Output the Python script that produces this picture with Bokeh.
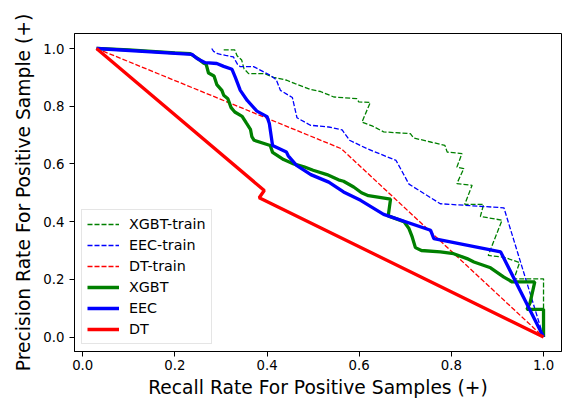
from bokeh.plotting import figure
from bokeh.models import Range1d, FixedTicker, Legend, LegendItem
from bokeh.embed import file_html
from bokeh.resources import INLINE

# ---- data ----
xgbt_train_recall = [0.306, 0.330, 0.335, 0.345, 0.350, 0.360, 0.395, 0.414, 0.443, 0.461, 0.494, 0.516,
                     0.545, 0.595, 0.599, 0.624, 0.606, 0.628, 0.653, 0.711, 0.718, 0.755, 0.786, 0.791,
                     0.823, 0.812, 0.827, 0.812, 0.845, 0.829, 0.870, 0.863, 0.910, 0.880, 0.914, 0.948,
                     0.936, 1.000, 1.000]
xgbt_train_prec = [0.995, 0.995, 0.975, 0.960, 0.930, 0.913, 0.913, 0.900, 0.890, 0.878, 0.858, 0.851,
                   0.832, 0.826, 0.815, 0.813, 0.745, 0.732, 0.711, 0.705, 0.690, 0.676, 0.664, 0.641,
                   0.636, 0.589, 0.584, 0.532, 0.526, 0.460, 0.460, 0.418, 0.405, 0.283, 0.277, 0.258,
                   0.202, 0.202, 0.000]

eec_train_recall = [0.280, 0.284, 0.293, 0.310, 0.327, 0.336, 0.342, 0.371, 0.407, 0.420, 0.429, 0.455,
                    0.465, 0.494, 0.534, 0.563, 0.579, 0.617, 0.680, 0.708, 0.776, 0.914, 1.000]
eec_train_prec = [1.000, 0.990, 0.982, 0.976, 0.971, 0.945, 0.937, 0.937, 0.907, 0.892, 0.855, 0.830,
                  0.760, 0.734, 0.728, 0.718, 0.682, 0.653, 0.612, 0.530, 0.462, 0.448, 0.000]

dt_train_recall = [0.030, 0.561, 1.000]
dt_train_prec = [1.000, 0.653, 0.000]

xgbt_recall = [0.030, 0.100, 0.200, 0.233, 0.250, 0.262, 0.268, 0.273, 0.285, 0.291, 0.302, 0.306,
               0.315, 0.322, 0.330, 0.346, 0.355, 0.364, 0.367, 0.372, 0.407, 0.412, 0.436, 0.458,
               0.480, 0.500, 0.530, 0.555, 0.566, 0.588, 0.605, 0.620, 0.668, 0.663, 0.697, 0.708,
               0.715, 0.722, 0.735, 0.776, 0.805, 0.834, 0.849, 0.885, 0.914, 0.932, 0.981, 0.971,
               0.964, 1.000, 1.000]
xgbt_prec = [1.000, 0.995, 0.985, 0.982, 0.965, 0.950, 0.945, 0.915, 0.905, 0.875, 0.855, 0.838,
             0.826, 0.795, 0.780, 0.765, 0.742, 0.720, 0.695, 0.682, 0.664, 0.640, 0.615, 0.600,
             0.590, 0.578, 0.563, 0.545, 0.540, 0.520, 0.500, 0.490, 0.478, 0.420, 0.400, 0.376,
             0.347, 0.310, 0.300, 0.295, 0.289, 0.272, 0.260, 0.240, 0.208, 0.191, 0.191, 0.120,
             0.096, 0.096, 0.000]

eec_recall = [0.030, 0.237, 0.248, 0.266, 0.291, 0.306, 0.324, 0.331, 0.342, 0.357, 0.378, 0.400,
              0.405, 0.412, 0.442, 0.446, 0.464, 0.495, 0.534, 0.566, 0.603, 0.653, 0.755, 0.762,
              0.907, 1.000]
eec_prec = [1.000, 0.980, 0.965, 0.951, 0.948, 0.938, 0.928, 0.901, 0.855, 0.820, 0.783, 0.764,
            0.740, 0.664, 0.641, 0.628, 0.595, 0.563, 0.537, 0.503, 0.474, 0.425, 0.370, 0.341,
            0.295, 0.000]

dt_recall = [0.030, 0.394, 0.383, 1.000]
dt_prec = [1.000, 0.508, 0.483, 0.000]

x_ticks = [0.0, 0.2, 0.4, 0.6, 0.8, 1.0]
y_ticks = [0.0, 0.2, 0.4, 0.6, 0.8, 1.0]
tick_labels = ["0.0", "0.2", "0.4", "0.6", "0.8", "1.0"]

FONT = "DejaVu Sans"

p = figure(width=562, height=401, output_backend="svg", toolbar_location=None,
           x_range=Range1d(-0.0178, 1.039), y_range=Range1d(-0.05, 1.052),
           min_border_left=74, min_border_right=1, min_border_top=33, min_border_bottom=50)

p.xgrid.visible = False
p.ygrid.visible = False
p.outline_line_color = "black"
p.outline_line_width = 1

for ax, ticks in ((p.xaxis[0], x_ticks), (p.yaxis[0], y_ticks)):
    ax.ticker = FixedTicker(ticks=ticks)
    ax.major_label_overrides = {t: l for t, l in zip(ticks, tick_labels)}
    ax.minor_tick_line_color = None
    ax.major_tick_out = 5
    ax.major_tick_in = 0
    ax.axis_line_color = "black"
    ax.major_tick_line_color = "black"
    ax.major_label_text_font = FONT
    ax.major_label_text_font_size = "13.3px"
    ax.major_label_text_color = "black"
    ax.axis_label_text_font = FONT
    ax.axis_label_text_font_size = "18.7px"
    ax.axis_label_text_font_style = "normal"
    ax.axis_label_text_color = "black"

p.xaxis.axis_label = "Recall Rate For Positive Samples (+)"
p.yaxis.axis_label = "Precision Rate For Positive Sample (+)"
p.xaxis.major_label_standoff = 3
p.xaxis.axis_label_standoff = 4
p.yaxis.major_label_standoff = 5
p.yaxis.axis_label_standoff = 6

dash = "5 2"
r1 = p.line(xgbt_train_recall, xgbt_train_prec, line_color="green", line_width=1.3, line_dash=dash)
r2 = p.line(eec_train_recall, eec_train_prec, line_color="blue", line_width=1.3, line_dash=dash)
r3 = p.line(dt_train_recall, dt_train_prec, line_color="red", line_width=1.3, line_dash=dash)
r4 = p.line(xgbt_recall, xgbt_prec, line_color="green", line_width=3.3)
r5 = p.line(eec_recall, eec_prec, line_color="blue", line_width=3.3)
r6 = p.line(dt_recall, dt_prec, line_color="red", line_width=3.3)

legend = Legend(items=[
    LegendItem(label="XGBT-train", renderers=[r1]),
    LegendItem(label="EEC-train", renderers=[r2]),
    LegendItem(label="DT-train", renderers=[r3]),
    LegendItem(label="XGBT", renderers=[r4]),
    LegendItem(label="EEC", renderers=[r5]),
    LegendItem(label="DT", renderers=[r6]),
], location=(7, 7))
legend.label_text_font = FONT
legend.label_text_font_size = "14.3px"
legend.label_text_color = "black"
legend.glyph_width = 32
legend.glyph_height = 18
legend.label_height = 18
legend.spacing = 3
legend.padding = 5
legend.margin = 0
legend.label_standoff = 10
legend.border_line_color = "#cccccc"
legend.border_line_width = 1
legend.background_fill_alpha = 0.8
p.add_layout(legend, "center")

open("out.html", "w").write(file_html(p, INLINE))
